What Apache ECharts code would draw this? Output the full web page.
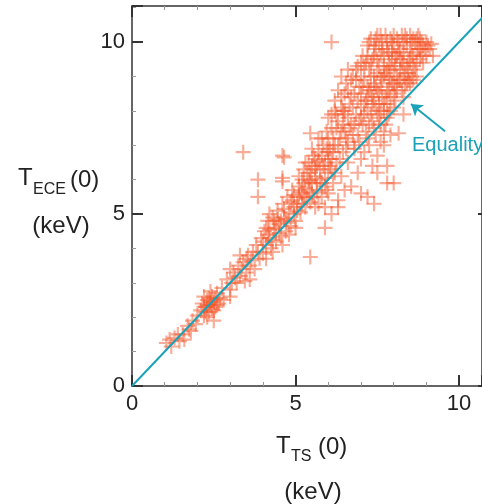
<!DOCTYPE html>
<html>
<head>
<meta charset="utf-8">
<title>T_ECE vs T_TS</title>
<script src="https://cdn.jsdelivr.net/npm/echarts@6/dist/echarts.min.js"></script>
<style>
  html, body { margin: 0; padding: 0; background: #fff; }
  #chart { width: 482px; height: 504px; }
</style>
</head>
<body>
<div id="chart"></div>
<script>
// axis ticks
var xTicks = [0, 5, 10];
var yTicks = [0, 5, 10];

var lowPoints = [
  [1.05,1.25],[1.15,1.35],[1.2,1.15],[1.3,1.4],[1.45,1.3],[1.55,1.5],[1.6,1.35],[1.7,1.75],
  [1.8,1.6],[1.85,1.9],[1.95,1.8],[2.0,2.05],[2.1,2.2],[2.15,2.4],[2.2,2.05],[2.25,2.3],
  [2.3,2.5],[2.35,2.15],[2.4,2.35],[2.45,2.6],[2.5,2.2],[2.5,2.45],[2.55,2.3],[2.6,2.7],
  [2.65,2.4],[2.7,2.55],[2.3,2.0],[2.4,2.75],[2.2,2.6],[2.75,2.85],[2.8,2.5],[2.5,1.9],
  [2.2,2.3],[2.3,2.35],[2.35,2.55],[2.45,2.25],[2.55,2.55],[2.6,2.35],[2.25,2.15],[2.4,2.45],
  [1.4,1.5],[1.75,1.65],
  [2.9,3.1],[3.0,2.8],[3.1,3.3],[3.2,3.0],[3.25,3.5],[3.3,3.2],[3.4,3.6],[3.5,3.3],
  [3.55,3.8],[3.6,3.5],[3.7,3.9],[3.75,3.4],[3.8,4.1],[3.9,3.7],[3.95,4.3],[4.0,3.85],
  [3.3,3.8],[3.0,3.4],[3.45,3.05],[3.0,2.6],[3.6,3.1],[4.1,3.7],[4.3,3.9],
  [3.05,3.0],[3.15,3.15],[3.35,3.4],[3.5,3.7],[3.65,3.65],[3.85,3.9],[4.0,4.2]
];
var midPoints = [
  [4.05,4.5],[4.1,4.1],[4.15,4.8],[4.2,4.3],[4.25,4.0],[4.3,4.9],[4.35,4.55],[4.4,4.2],
  [4.45,5.1],[4.5,4.7],[4.55,4.35],[4.6,5.3],[4.65,4.9],[4.7,4.5],[4.75,5.5],[4.8,5.05],
  [4.85,4.65],[4.9,5.7],[4.95,5.2],[5.0,4.8],[4.2,5.0],[4.4,4.6],[4.6,4.1],[4.8,4.4],
  [4.9,5.4],[5.0,4.6],[4.95,5.0],[4.7,4.85],[4.5,4.45],[4.3,4.25],[4.15,4.4],
  [4.1,4.6],[4.2,4.55],[4.35,4.8],[4.45,4.85],[4.55,4.8],[4.65,5.15],[4.75,4.75],[4.85,5.35],
  [4.95,5.55],
  [5.05,5.3],[5.1,5.8],[5.15,5.05],[5.2,6.0],[5.25,5.5],[5.3,5.2],[5.35,6.2],[5.4,5.7],
  [5.45,5.35],[5.5,6.4],[5.5,5.9],[5.55,5.5],[5.6,6.6],[5.6,6.1],[5.65,5.65],[5.7,5.3],
  [5.7,6.8],[5.75,6.3],[5.8,5.9],[5.8,5.5],[5.85,7.0],[5.9,6.5],[5.9,6.05],[5.95,5.7],
  [6.0,7.2],[6.0,6.6],[6.0,6.2],[6.0,5.6],[5.3,6.5],[5.5,6.9],[5.7,7.2],[5.2,5.6],
  [5.4,6.0],[5.6,5.2],[5.9,5.2],[5.95,6.9],[5.8,6.7],[5.65,6.4],[5.45,6.2],[5.25,5.9],
  [5.1,5.5],[5.45,7.35],
  [5.05,5.1],[5.1,6.1],[5.15,5.65],[5.2,5.3],[5.25,6.3],[5.3,5.75],[5.35,5.45],[5.4,6.5],
  [5.45,5.95],[5.5,5.6],[5.55,6.7],[5.6,6.3],[5.65,5.9],[5.7,6.55],[5.75,6.0],[5.8,7.2],
  [5.85,6.4],[5.9,5.8],[5.95,7.4]
];
var highPoints = [
  [6.05,6.9],[6.1,6.3],[6.1,7.5],[6.15,5.9],[6.2,7.0],[6.2,8.0],[6.25,6.5],[6.3,7.7],
  [6.3,5.4],[6.35,7.2],[6.4,8.4],[6.4,6.1],[6.45,6.8],[6.5,7.9],[6.5,7.4],[6.55,8.8],
  [6.6,6.5],[6.6,7.1],[6.65,8.2],[6.7,7.6],[6.7,5.8],[6.75,9.0],[6.8,8.5],[6.8,6.9],
  [6.85,7.9],[6.9,7.3],[6.9,9.3],[6.95,8.7],[7.0,6.6],[7.0,8.1],[6.3,8.6],[6.5,8.0],
  [6.0,7.8],[6.2,8.3],[6.4,9.0],[6.6,9.2],[6.1,6.6],[6.8,7.0],[6.5,5.7],[6.9,6.2],
  [6.6,7.8],[6.7,8.4],[6.75,7.3],[6.85,8.9],[6.95,7.7],[7.0,8.5],[6.45,8.0],[6.55,7.2],
  [6.25,7.5],[6.15,7.2],
  [6.0,6.8],[6.05,6.4],[6.1,7.9],[6.15,6.8],[6.2,6.2],[6.25,7.9],[6.3,7.0],[6.35,6.6],
  [6.4,8.1],[6.4,7.4],[6.45,7.6],[6.5,8.5],[6.55,6.9],[6.6,8.6],[6.65,7.5],[6.7,8.9],
  [6.75,8.1],[6.8,7.6],[6.85,9.2],[6.9,8.3],[6.95,7.1],[7.0,9.4],[7.0,7.8],
  [7.05,7.6],[7.05,9.6],[7.1,8.9],[7.1,6.8],[7.15,8.3],[7.2,9.9],[7.2,7.2],[7.25,9.2],
  [7.25,8.6],[7.3,7.9],[7.3,10.1],[7.35,9.5],[7.35,6.4],[7.4,8.8],[7.4,7.5],[7.45,9.8],
  [7.45,8.1],[7.5,10.2],[7.5,9.1],[7.55,7.8],[7.55,8.5],[7.6,9.6],[7.6,7.1],[7.65,10.0],
  [7.65,8.9],[7.7,8.2],[7.7,9.3],[7.75,7.6],[7.75,10.2],[7.8,8.6],[7.8,9.8],[7.85,9.0],
  [7.85,7.9],[7.9,10.1],[7.9,8.4],[7.95,9.5],[8.0,8.1],[8.0,9.9],[7.0,9.0],[7.2,8.0],
  [7.4,9.0],[7.6,8.0],[7.8,9.2],[7.15,9.4],[7.35,8.2],[7.55,9.9],[7.7,7.4],[7.95,8.8],
  [7.1,9.3],[7.1,7.9],[7.2,8.7],[7.25,7.6],[7.3,9.0],[7.35,8.4],[7.4,9.6],[7.45,8.7],
  [7.5,7.9],[7.55,9.3],[7.6,8.7],[7.65,9.8],[7.7,9.0],[7.75,8.4],[7.8,10.0],[7.85,9.4],
  [7.9,8.9],[7.95,9.7],[7.25,10.0],[7.45,10.1],[7.6,10.2],
  [7.05,8.7],[7.1,8.2],[7.15,7.4],[7.2,9.6],[7.2,8.4],[7.25,7.0],[7.3,8.6],[7.3,9.4],
  [7.35,7.7],[7.4,8.3],[7.4,9.9],[7.45,7.3],[7.5,8.6],[7.5,9.5],[7.55,8.2],[7.6,9.0],
  [7.6,7.6],[7.65,8.4],[7.7,9.6],[7.7,8.0],[7.75,9.1],[7.8,8.2],[7.8,7.8],[7.85,9.7],
  [7.85,8.6],[7.9,9.3],[7.9,8.0],[7.95,10.0],
  [8.05,9.3],[8.1,10.1],[8.1,8.6],[8.15,9.7],[8.2,8.9],[8.25,10.2],[8.3,9.4],[8.35,8.7],
  [8.4,9.9],[8.45,9.1],[8.5,10.2],[8.55,9.6],[8.6,8.9],[8.65,10.0],[8.7,9.4],[8.75,9.8],
  [8.8,10.1],[8.85,9.6],[8.9,9.9],[9.0,10.0],[9.1,9.8],[9.2,9.6],[8.2,9.5],[8.4,8.8],
  [8.3,10.0],[8.6,9.3],[8.0,8.5],[8.9,9.4],[8.0,9.2],[8.05,8.7],[8.1,9.6],[8.15,10.0],
  [8.2,9.2],[8.3,9.7],[8.35,9.1],[8.45,9.5],[8.5,9.8],[8.55,9.0],[8.6,10.1],[8.7,9.7],
  [8.8,9.5],[8.95,9.8],[8.0,10.2],[8.35,10.2],[8.75,10.2],
  [8.0,8.8],[8.05,9.6],[8.05,8.3],[8.1,9.0],[8.15,8.9],[8.2,9.8],[8.25,8.6],[8.25,9.4],
  [8.3,9.0],[8.4,9.3],[8.4,10.1],[8.45,8.9],[8.5,9.4],[8.55,10.0],[8.6,9.6],[8.65,9.2],
  [8.7,10.1],[8.8,9.8],[8.85,10.0],[9.0,9.6],[9.05,9.9],[9.15,9.95],[8.3,8.4],[8.5,8.8],
  [8.7,9.0],
  [7.7,7.0],[7.9,7.3],[8.15,7.35],[8.3,7.9],[7.5,6.7]
];
var outliers = [
  [6.1,10.0],[3.4,6.8],[4.65,6.65],[4.6,6.7],[3.85,6.0],[3.85,5.5],[4.6,5.95],[4.6,6.05],
  [8.0,5.9],[7.8,5.9],[7.4,5.3],[7.2,5.5],[5.45,3.75],[5.9,4.6],[7.8,6.4],[7.5,6.2],
  [6.1,5.0],[6.3,5.2],[7.0,5.6]
];
var equality = [[0, 0], [10.7, 10.7]];

var points = lowPoints.concat(midPoints, highPoints, outliers);

var chart = echarts.init(document.getElementById('chart'));

var FONT = 'Liberation Sans, Arial, sans-serif';
var AXIS_COLOR = '#333';
var LINE_COLOR = '#1aa2b8';
// plus sign marker
var PLUS = 'path://M0,6h14v2h-14z M6,0h2v14h-2z';

function mainAxis(ticks, max, showLabel) {
  return {
    type: 'value',
    min: 0,
    max: max,
    interval: 5,
    axisLine: { show: true, onZero: false, lineStyle: { color: AXIS_COLOR, width: 1.5 } },
    axisTick: { show: true, inside: true, length: 11, lineStyle: { color: AXIS_COLOR, width: 2 } },
    minorTick: { show: true, splitNumber: 5, length: 4, lineStyle: { color: '#999', width: 1 } },
    splitLine: { show: false },
    axisLabel: {
      show: showLabel,
      showMaxLabel: false,
      margin: 7,
      color: '#222',
      fontFamily: FONT,
      fontSize: 22,
      formatter: function (v) { return ticks.indexOf(v) >= 0 ? String(v) : ''; }
    }
  };
}

var xBottom = mainAxis(xTicks, 10.7, true);
var xTop = mainAxis(xTicks, 10.7, false);
xTop.position = 'top';
var yLeft = mainAxis(yTicks, 11.05, true);
var yRight = mainAxis(yTicks, 11.05, false);
yRight.position = 'right';
// the right frame sits on the page edge, only a stub of each tick shows
yRight.axisTick.length = 4;
yRight.minorTick.show = false;

var option = {
  animation: false,
  grid: { left: 132, top: 6, right: 0, bottom: 118 },
  xAxis: [xBottom, xTop],
  yAxis: [yLeft, yRight],
  series: [
    {
      type: 'scatter',
      data: points,
      symbol: PLUS,
      symbolSize: 15,
      itemStyle: { color: 'rgba(243,84,40,0.6)' }
    },
    {
      type: 'line',
      data: equality,
      symbol: 'none',
      lineStyle: { color: LINE_COLOR, width: 2 },
      z: 3,
      markLine: {
        silent: true,
        symbolSize: 11,
        lineStyle: { color: LINE_COLOR, width: 2, type: 'solid' },
        label: { show: false },
        data: [[
          { coord: [9.57, 7.41], symbol: 'none' },
          { coord: [8.53, 8.2], symbol: 'arrow' }
        ]]
      },
      markPoint: {
        symbol: 'circle',
        symbolSize: 0,
        data: [{ coord: [8.56, 6.98] }],
        label: {
          show: true,
          formatter: 'Equality',
          position: 'right',
          distance: 0,
          color: LINE_COLOR,
          fontFamily: FONT,
          fontSize: 20
        }
      }
    }
  ],
  // axis titles
  graphic: [
    { type: 'text', x: 18, y: 178, style: { text: 'T', font: '24px ' + FONT, fill: '#222', verticalAlign: 'middle' } },
    { type: 'text', x: 33, y: 190, style: { text: 'ECE', font: '16px ' + FONT, fill: '#222', verticalAlign: 'middle' } },
    { type: 'text', x: 70, y: 180, style: { text: '(0)', font: '24px ' + FONT, fill: '#222', verticalAlign: 'middle' } },
    { type: 'text', x: 61, y: 226, style: { text: '(keV)', font: '24px ' + FONT, fill: '#222', align: 'center', verticalAlign: 'middle' } },
    { type: 'text', x: 276, y: 446, style: { text: 'T', font: '24px ' + FONT, fill: '#222', verticalAlign: 'middle' } },
    { type: 'text', x: 291, y: 457, style: { text: 'TS', font: '16px ' + FONT, fill: '#222', verticalAlign: 'middle' } },
    { type: 'text', x: 318, y: 447, style: { text: '(0)', font: '24px ' + FONT, fill: '#222', verticalAlign: 'middle' } },
    { type: 'text', x: 313, y: 492, style: { text: '(keV)', font: '24px ' + FONT, fill: '#222', align: 'center', verticalAlign: 'middle' } }
  ]
};

chart.setOption(option);
</script>
</body>
</html>
